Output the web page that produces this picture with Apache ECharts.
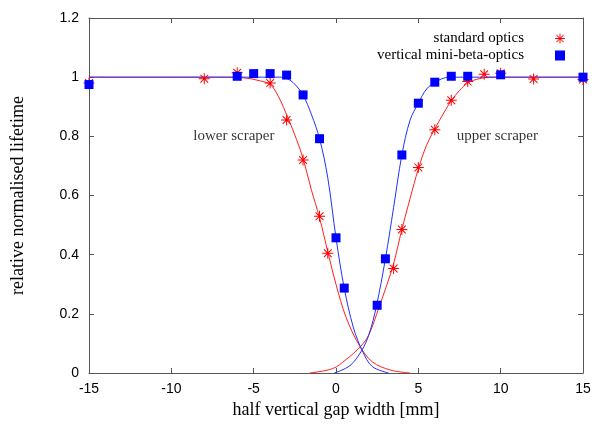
<!DOCTYPE html>
<html>
<head>
<meta charset="utf-8">
<script src="https://cdn.jsdelivr.net/npm/echarts@6/dist/echarts.min.js"></script>
<style>
html, body { margin: 0; padding: 0; background: #fff; }
#chart { width: 598px; height: 424px; }
</style>
</head>
<body>
<div id="chart"></div>
<script>
// measured points
var stdX = [-15, -8, -6, -4, -3, -2, -1, -0.5, 3.5, 4, 5, 6, 7, 8, 9, 10, 12, 15];
var stdY = [0.98, 0.995, 1.015, 0.98, 0.855, 0.72, 0.53, 0.405, 0.353, 0.485, 0.695, 0.822, 0.922, 0.985, 1.01, 1.013, 0.994, 0.992];
var miniX = [-15, -6, -5, -4, -3, -2, -1, 0, 0.5, 2.5, 3, 4, 5, 6, 7, 8, 10, 15];
var miniY = [0.975, 1.003, 1.012, 1.012, 1.007, 0.94, 0.792, 0.457, 0.287, 0.229, 0.386, 0.737, 0.912, 0.983, 1.003, 1.003, 1.008, 1.0];

// fitted curves
var stdLowX = [-15, -6.5, -5.5, -4.8, -4, -3.5, -2.9, -2.4, -2, -1.5, -1, -0.5, 0, 0.6, 1.4, 2.2, 3.3, 4.5];
var stdLowY = [1, 1, 0.997, 0.99, 0.975, 0.935, 0.86, 0.79, 0.725, 0.62, 0.525, 0.41, 0.3, 0.19, 0.095, 0.038, 0.01, 0];
var stdUpX = [-1.6, -0.2, 0.6, 1.5, 2, 2.6, 3.1, 3.5, 4, 4.5, 5, 5.5, 6, 6.5, 7, 7.5, 8, 8.7, 9.5, 15];
var stdUpY = [0, 0.015, 0.045, 0.09, 0.13, 0.22, 0.3, 0.37, 0.485, 0.59, 0.69, 0.77, 0.825, 0.875, 0.92, 0.955, 0.98, 0.995, 1, 1];
var miniLowX = [-15, -3.3, -2.8, -2.4, -2, -1.5, -1, -0.5, 0, 0.5, 1.05, 1.6, 2.2, 3.2];
var miniLowY = [1, 1, 0.99, 0.97, 0.94, 0.875, 0.792, 0.66, 0.457, 0.287, 0.155, 0.075, 0.022, 0];
var miniUpX = [-0.1, 0.85, 1.55, 2, 2.45, 3, 3.5, 4, 4.5, 5, 5.5, 6, 6.4, 6.9, 15];
var miniUpY = [0, 0.025, 0.075, 0.13, 0.225, 0.386, 0.56, 0.737, 0.855, 0.912, 0.96, 0.982, 0.994, 1, 1];

var noteText = ['lower scraper', 'upper scraper'];
var noteX = [-6.2, 9.8];
var noteY = [0.8, 0.8];

function pairs(xs, ys) {
	return xs.map(function (x, i) { return [x, ys[i]]; });
}

// gnuplot style asterisk (+ and x overlaid)
var star = 'path://M-0.09,-1L0.09,-1L0.09,1L-0.09,1Z' +
	'M-1,0.09L-1,-0.09L1,-0.09L1,0.09Z' +
	'M0.644,-0.771L0.771,-0.644L-0.644,0.771L-0.771,0.644Z' +
	'M-0.771,-0.644L-0.644,-0.771L0.771,0.644L0.644,0.771Z';
var square = 'path://M0,0L10,0L10,10L0,10Z';

var frame = '#555';
var serif = 'Liberation Serif';

var myChart = echarts.init(document.getElementById('chart'));

function curve(name, xs, ys, color) {
	return {
		name: name,
		type: 'line',
		data: pairs(xs, ys),
		showSymbol: false,
		smooth: 0.35,
		lineStyle: { color: color, width: 1 },
		silent: true,
		z: 2
	};
}

function mirrorAxis(pos, min, max, step) {
	return {
		type: 'value',
		position: pos,
		min: min, max: max, interval: step,
		axisLine: { show: true, onZero: false, lineStyle: { color: frame } },
		axisTick: { show: true, inside: true, length: 5, lineStyle: { color: frame } },
		axisLabel: { show: false },
		splitLine: { show: false }
	};
}

var option = {
	backgroundColor: '#fff',
	animation: false,
	grid: { left: 89, right: 15, top: 18, bottom: 50 },
	legend: {
		orient: 'vertical',
		align: 'right',
		right: 28,
		top: 26,
		itemWidth: 62,
		itemHeight: 10,
		itemGap: 2,
		symbolKeepAspect: true,
		textStyle: { fontFamily: serif, fontSize: 15, color: '#000', lineHeight: 15 },
		data: [
			{ name: 'standard optics', icon: star, itemStyle: { color: '#f00' } },
			{ name: 'vertical mini-beta-optics', icon: square, itemStyle: { color: '#0000ff' } }
		]
	},
	xAxis: [{
		type: 'value',
		position: 'bottom',
		min: -15, max: 15, interval: 5,
		name: 'half vertical gap width [mm]',
		nameLocation: 'middle',
		nameGap: 28,
		nameTextStyle: { fontFamily: serif, fontSize: 18, color: '#000' },
		axisLine: { onZero: false, lineStyle: { color: frame } },
		axisTick: { inside: true, length: 5, lineStyle: { color: frame } },
		axisLabel: { margin: 9, fontFamily: 'Liberation Sans', fontSize: 14, color: '#000' },
		splitLine: { show: false }
	}, mirrorAxis('top', -15, 15, 5)],
	yAxis: [{
		type: 'value',
		position: 'left',
		min: 0, max: 1.2, interval: 0.2,
		name: 'relative normalised lifetime',
		nameLocation: 'middle',
		nameGap: 62,
		nameTextStyle: { fontFamily: serif, fontSize: 18, color: '#000' },
		axisLine: { show: true, onZero: false, lineStyle: { color: frame } },
		axisTick: { show: true, inside: true, length: 5, lineStyle: { color: frame } },
		axisLabel: { margin: 10, fontFamily: 'Liberation Sans', fontSize: 14, color: '#000' },
		splitLine: { show: false }
	}, mirrorAxis('right', 0, 1.2, 0.2)],
	series: [
		curve('std lower fit', stdLowX, stdLowY, '#ff2020'),
		curve('std upper fit', stdUpX, stdUpY, '#ff2020'),
		curve('mini lower fit', miniLowX, miniLowY, '#2030ff'),
		curve('mini upper fit', miniUpX, miniUpY, '#2030ff'),
		{
			name: 'standard optics',
			type: 'scatter',
			data: pairs(stdX, stdY),
			symbol: star,
			symbolSize: 11,
			itemStyle: { color: '#f00', opacity: 1 },
			z: 3
		},
		{
			name: 'vertical mini-beta-optics',
			type: 'scatter',
			data: pairs(miniX, miniY),
			symbol: 'rect',
			symbolSize: 9,
			itemStyle: { color: '#0000ff', opacity: 1 },
			z: 4
		},
		{
			name: 'notes',
			type: 'scatter',
			symbol: 'circle',
			symbolSize: 1,
			silent: true,
			itemStyle: { color: 'rgba(0,0,0,0)' },
			data: noteText.map(function (t, i) { return { name: t, value: [noteX[i], noteY[i]] }; }),
			label: {
				show: true,
				position: 'inside',
				formatter: '{b}',
				fontFamily: serif,
				fontSize: 15,
				color: '#000'
			}
		}
	]
};
myChart.setOption(option);
</script>
</body>
</html>
